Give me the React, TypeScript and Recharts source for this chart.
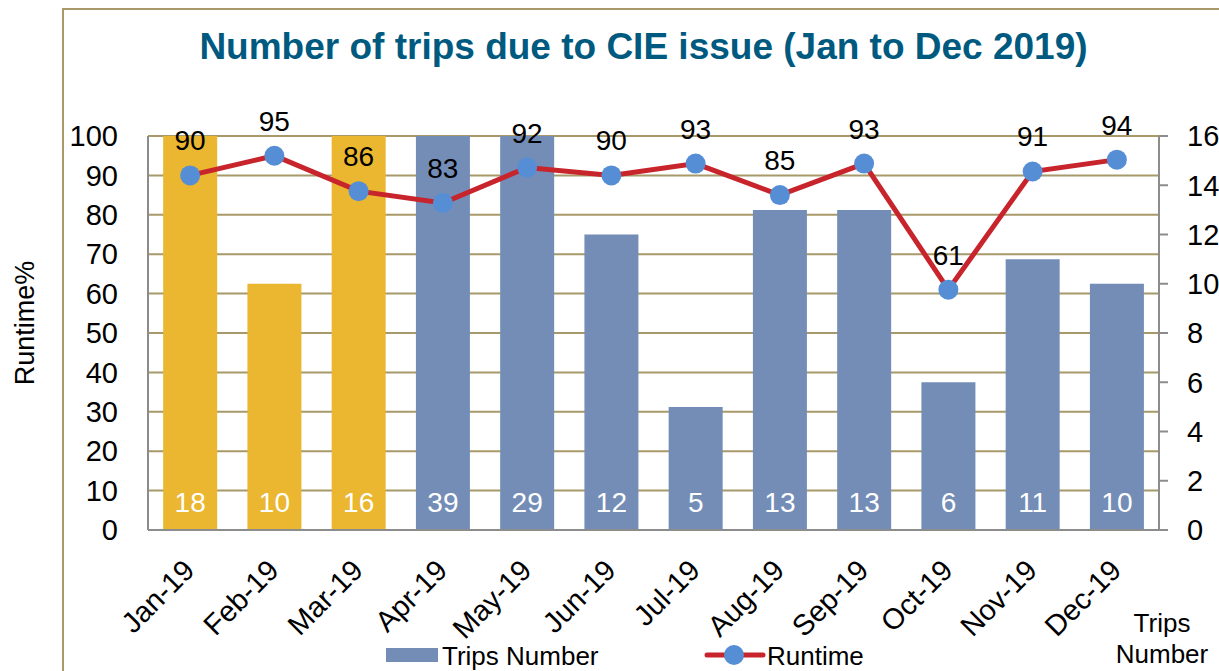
import React from 'react';
import { ComposedChart, Bar, Line, XAxis, YAxis, CartesianGrid, Legend, LabelList, Cell } from 'recharts';

const FONT = '"Liberation Sans", Arial, sans-serif';
const YELLOW = '#EBB630';
const BLUE = '#738DB7';
const RED = '#C8242B';
const DOT = '#568ED6';
const GRID = '#A8996A';
const AXIS = '#8C8C8C';

const months = ['Jan-19', 'Feb-19', 'Mar-19', 'Apr-19', 'May-19', 'Jun-19', 'Jul-19', 'Aug-19', 'Sep-19', 'Oct-19', 'Nov-19', 'Dec-19'];
const tripsNumber = [18, 10, 16, 39, 29, 12, 5, 13, 13, 6, 11, 10];
const runtime = [90, 95, 86, 83, 92, 90, 93, 85, 93, 61, 91, 94];
const highlightedMonths = ['Jan-19', 'Feb-19', 'Mar-19'];
const runtimeTicks = [0, 10, 20, 30, 40, 50, 60, 70, 80, 90, 100];
const tripsTicks = [0, 2, 4, 6, 8, 10, 12, 14, 16];

const data = months.map((month, i) => ({ month, trips: tripsNumber[i], runtime: runtime[i] }));

const MonthTick = ({ x, y, payload }: any) => {
  const tx = x + 6;
  const ty = y + 40;
  return (
    <text x={tx} y={ty} transform={`rotate(-45, ${tx}, ${ty})`} textAnchor="end" fontSize={29} fontFamily={FONT} fill="#000">
      {payload.value}
    </text>
  );
};

const renderLegend = () => (
  <div style={{ position: 'relative', height: 30, fontSize: 26, fontFamily: FONT, color: '#000' }}>
    <div style={{ position: 'absolute', left: 386, top: 7, width: 52, height: 14, background: BLUE }} />
    <span style={{ position: 'absolute', left: 442, top: 0, lineHeight: '30px' }}>Trips Number</span>
    <svg width={62} height={24} style={{ position: 'absolute', left: 704, top: 2 }}>
      <line x1={3} y1={12} x2={59} y2={12} stroke={RED} strokeWidth={5} strokeLinecap="round" />
      <circle cx={30} cy={12} r={10} fill={DOT} />
    </svg>
    <span style={{ position: 'absolute', left: 767, top: 0, lineHeight: '30px' }}>Runtime</span>
  </div>
);

const App: React.FC = () => {
  return (
    <div style={{ position: 'absolute', left: 0, top: 0, width: 1219, height: 671, background: '#fff', overflow: 'hidden' }}>
      <div style={{ position: 'absolute', left: 62, top: 8, width: 1400, height: 900, border: `2px solid ${GRID}`, boxSizing: 'border-box' }} />
      <div style={{ position: 'absolute', left: 62, width: 1163, top: 26, textAlign: 'center', fontFamily: FONT, fontWeight: 'bold', fontSize: 37, color: '#005A7F', whiteSpace: 'nowrap' }}>
        Number of trips due to CIE issue (Jan to Dec 2019)
      </div>
      <ComposedChart
        width={1219}
        height={671}
        data={data}
        margin={{ top: 136, right: 0, bottom: 0, left: 0 }}
        barCategoryGap="18%"
        style={{ position: 'absolute', left: 0, top: 0 }}
      >
        <CartesianGrid yAxisId="left" vertical={false} stroke={GRID} strokeWidth={2} />
        <XAxis
          dataKey="month"
          height={111}
          interval={0}
          tickLine={false}
          tickSize={0}
          axisLine={{ stroke: AXIS, strokeWidth: 2 }}
          tick={<MonthTick />}
        />
        <YAxis
          yAxisId="left"
          orientation="left"
          width={148}
          domain={[0, 100]}
          ticks={runtimeTicks}
          interval={0}
          tickLine={false}
          tickSize={0}
          tickMargin={30}
          axisLine={{ stroke: AXIS, strokeWidth: 2 }}
          tick={{ fontSize: 29, fontFamily: FONT, fill: '#000' }}
          label={{
            value: 'Runtime%',
            content: ({ viewBox }: any) => {
              const cx = 25;
              const cy = viewBox.y + viewBox.height / 2 - 10;
              return (
                <text x={cx} y={cy} transform={`rotate(-90, ${cx}, ${cy})`} textAnchor="middle" dominantBaseline="central" fontSize={27} fontFamily={FONT} fill="#000">
                  Runtime%
                </text>
              );
            },
          }}
        />
        <YAxis
          yAxisId="right"
          orientation="right"
          width={60}
          domain={[0, 16]}
          ticks={tripsTicks}
          interval={0}
          allowDataOverflow
          tickSize={9}
          tickMargin={19}
          tickLine={{ stroke: AXIS, strokeWidth: 2 }}
          axisLine={{ stroke: AXIS, strokeWidth: 2 }}
          tick={{ fontSize: 29, fontFamily: FONT, fill: '#000', textAnchor: 'start' }}
          label={{
            value: 'Trips Number',
            content: () => (
              <text textAnchor="middle" fontSize={26} fontFamily={FONT} fill="#000">
                <tspan x={1162} y={632}>Trips</tspan>
                <tspan x={1162} y={663}>Number</tspan>
              </text>
            ),
          }}
        />
        <Legend verticalAlign="bottom" height={30} content={renderLegend} />
        <Bar yAxisId="right" dataKey="trips" name="Trips Number" fill={BLUE} isAnimationActive={false}>
          {data.map((d) => (
            <Cell key={d.month} fill={highlightedMonths.includes(d.month) ? YELLOW : BLUE} />
          ))}
          <LabelList dataKey="trips" position="insideBottom" offset={18} fill="#fff" fontSize={28} fontFamily={FONT} />
        </Bar>
        <Line
          yAxisId="left"
          dataKey="runtime"
          name="Runtime"
          stroke={RED}
          strokeWidth={5}
          dot={{ r: 10, fill: DOT, stroke: 'none' }}
          activeDot={false}
          isAnimationActive={false}
        >
          <LabelList dataKey="runtime" position="top" offset={25} fill="#000" fontSize={28} fontFamily={FONT} />
        </Line>
      </ComposedChart>
    </div>
  );
};

export default App;
